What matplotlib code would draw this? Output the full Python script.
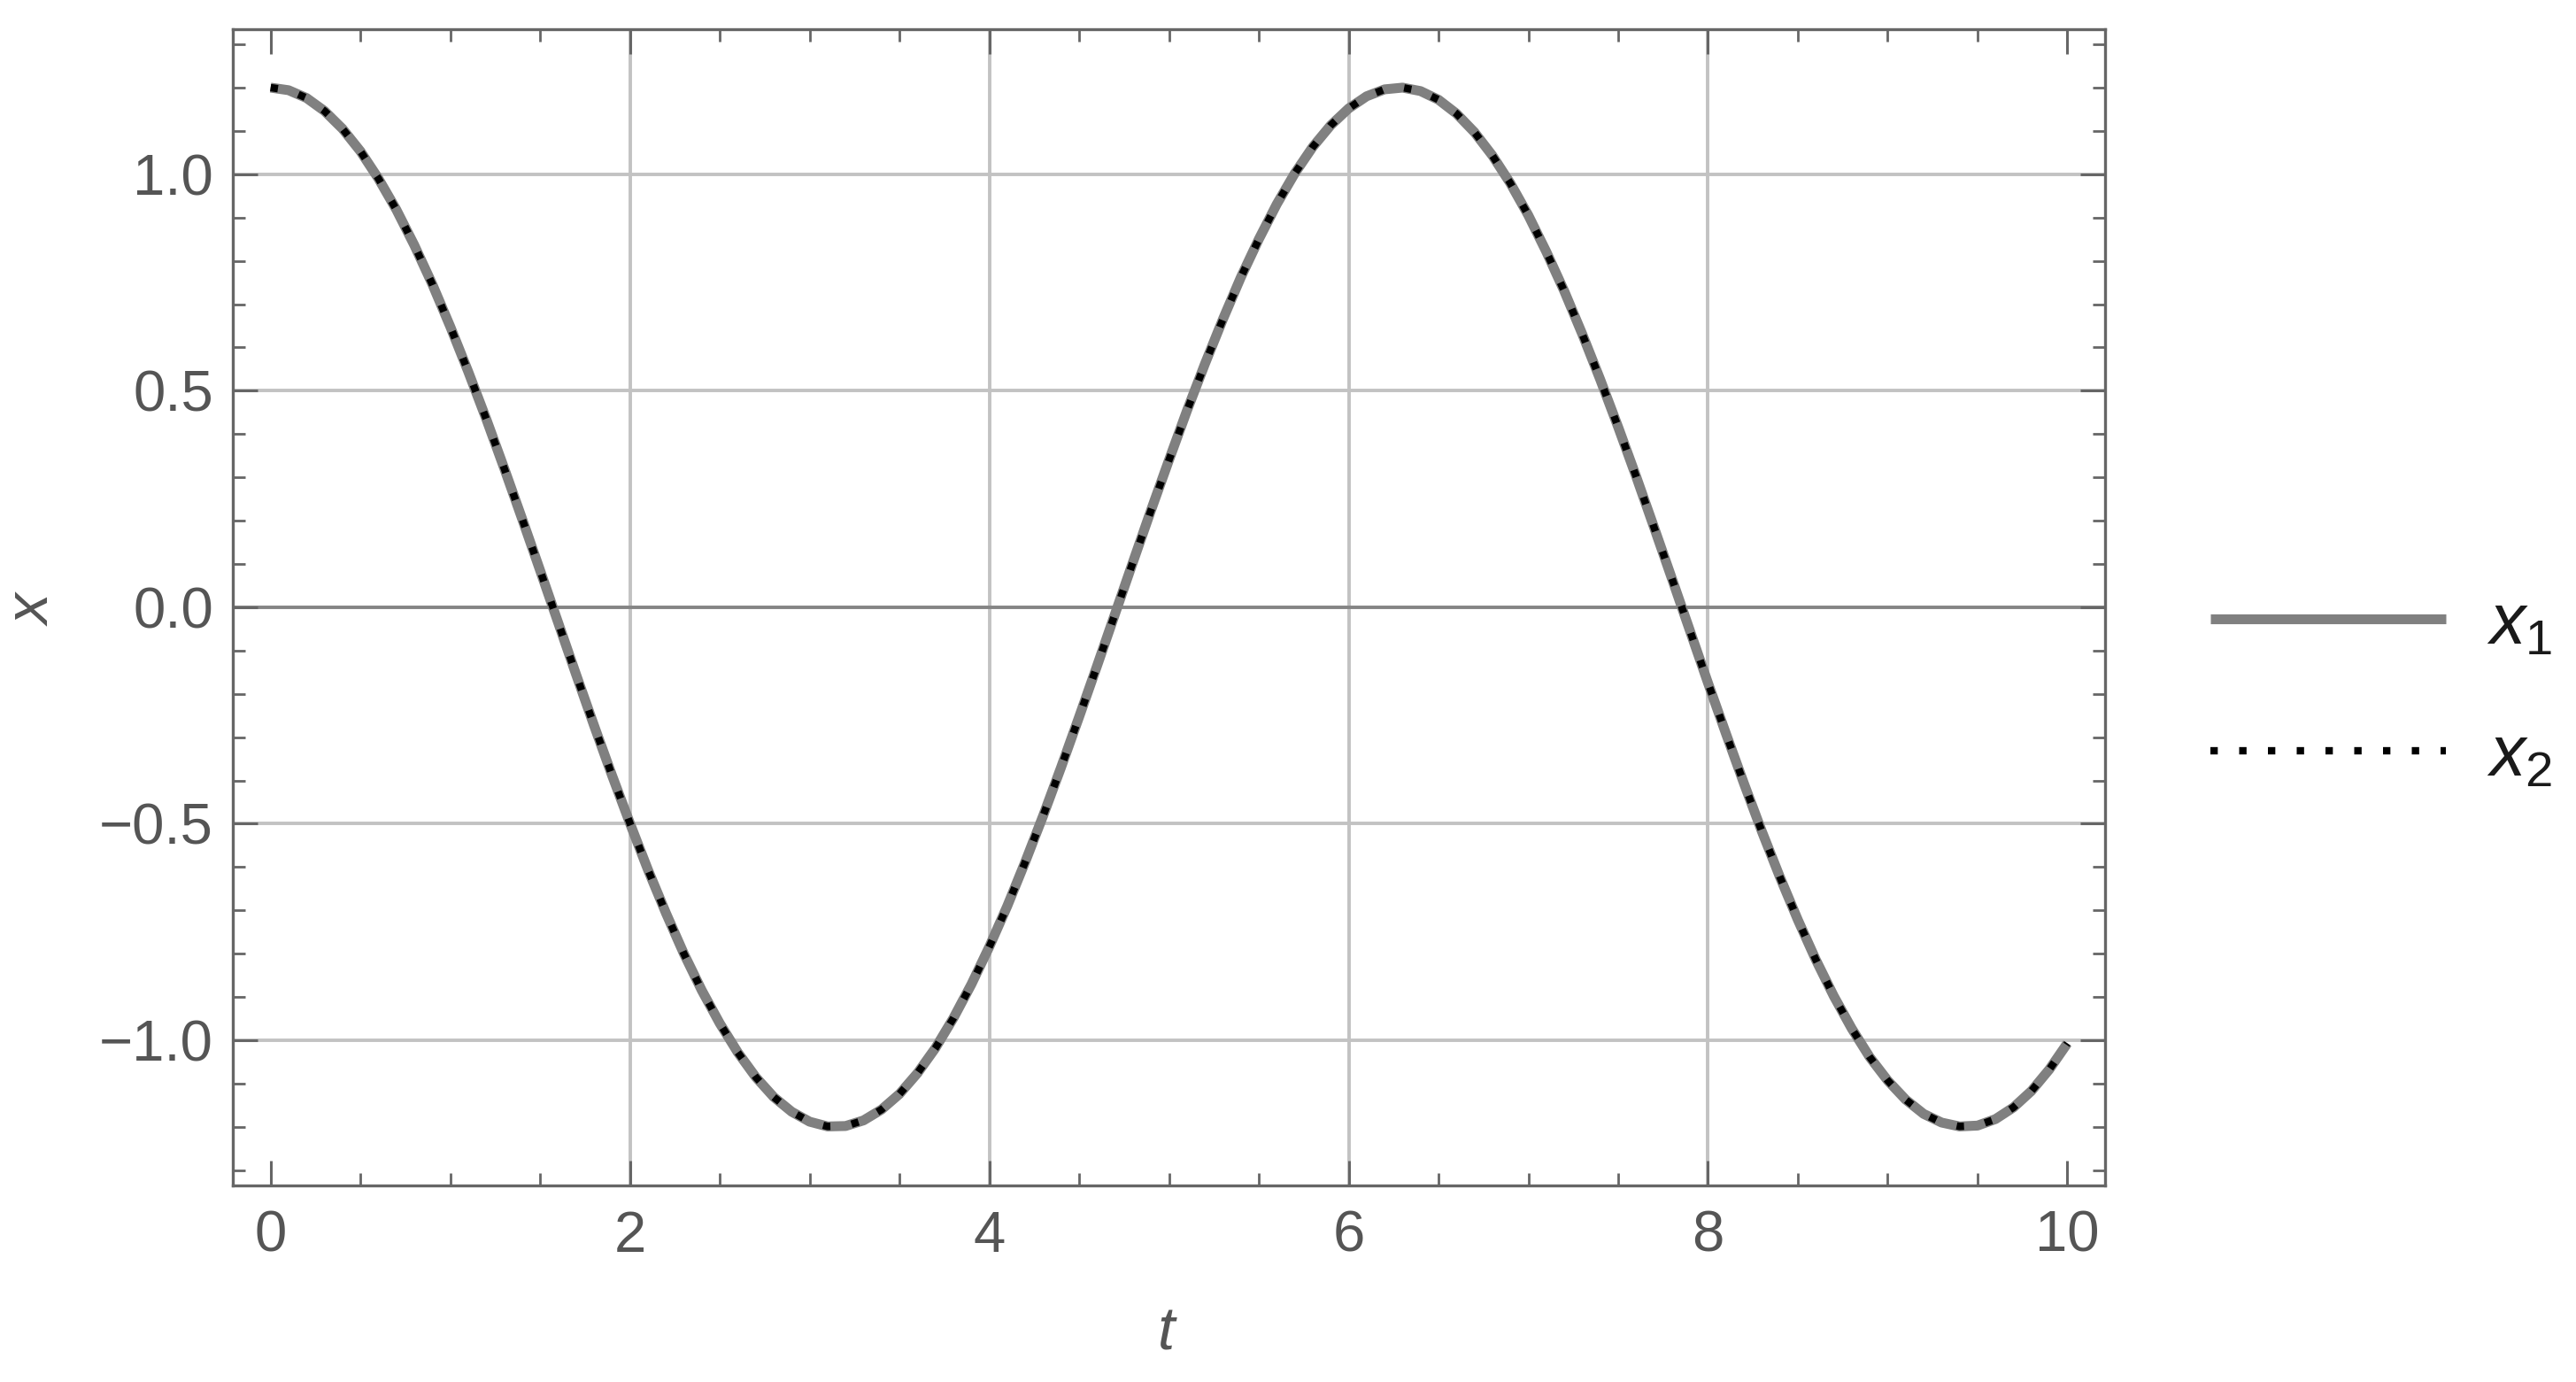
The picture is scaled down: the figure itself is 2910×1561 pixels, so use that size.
import numpy as np
import matplotlib
matplotlib.use('Agg')
import matplotlib.pyplot as plt
from matplotlib.ticker import MultipleLocator

plt.rcParams['font.family'] = ['Liberation Sans', 'DejaVu Sans']
plt.rcParams['mathtext.fontset'] = 'custom'
plt.rcParams['mathtext.it'] = 'Liberation Sans:italic'
plt.rcParams['mathtext.rm'] = 'Liberation Sans'

# sample grid of the curve (step 0.1)
t = np.round(np.arange(0, 10.05, 0.1), 1)

# x1
x1 = [1.200, 1.194, 1.176, 1.146, 1.105, 1.053, 0.990, 0.918, 0.836, 0.746,
      0.648, 0.544, 0.435, 0.321, 0.204, 0.085, -0.035, -0.155, -0.273, -0.388,
      -0.499, -0.606, -0.706, -0.800, -0.885, -0.961, -1.028, -1.085, -1.131, -1.165,
      -1.188, -1.199, -1.198, -1.185, -1.160, -1.124, -1.076, -1.018, -0.949, -0.871,
      -0.784, -0.690, -0.588, -0.481, -0.369, -0.253, -0.135, -0.015, 0.105, 0.224,
      0.340, 0.454, 0.562, 0.665, 0.762, 0.850, 0.931, 1.002, 1.063, 1.113,
      1.152, 1.180, 1.196, 1.200, 1.192, 1.172, 1.140, 1.097, 1.043, 0.979,
      0.905, 0.821, 0.730, 0.631, 0.526, 0.416, 0.302, 0.184, 0.065, -0.055,
      -0.175, -0.292, -0.407, -0.518, -0.623, -0.722, -0.814, -0.898, -0.973, -1.039,
      -1.093, -1.137, -1.170, -1.190, -1.199, -1.197, -1.182, -1.155, -1.117, -1.067,
      -1.007]
# x2 lies right on top of x1 in the picture
x2 = list(x1)

x_ticks = [0, 2, 4, 6, 8, 10]
y_ticks = [-1.0, -0.5, 0.0, 0.5, 1.0]
x_grid = [2, 4, 6, 8]
y_grid = [-1.0, -0.5, 0.5, 1.0]

frame_col = '#666666'
label_col = '#555555'

fig = plt.figure(figsize=(29.10, 15.61), dpi=100)
ax = fig.add_axes([0.0904, 0.1423, 0.8172 - 0.0904, 0.9789 - 0.1423])

# grid lines and zero axis
for g in x_grid:
    ax.axvline(g, color='#c2c2c2', lw=2.8, zorder=1)
for g in y_grid:
    ax.axhline(g, color='#c2c2c2', lw=2.8, zorder=1)
ax.axhline(0, color='#858585', lw=2.8, zorder=1)

ax.plot(t, x1, color='#808080', lw=8.0, solid_capstyle='butt', label='$x_1$', zorder=3)
ax.plot(t, x2, color='black', lw=6.0, dashes=(1.0, 2.9), dash_capstyle='butt',
        label='$x_2$', zorder=4)

ax.set_xlim(-0.21, 10.21)
ax.set_ylim(-1.335, 1.335)
ax.set_xticks(x_ticks)
ax.set_yticks(y_ticks)
ax.set_xticklabels([str(v) for v in x_ticks])
ax.set_yticklabels([f'{v:.1f}'.replace('-', '\u2212') for v in y_ticks])
ax.xaxis.set_minor_locator(MultipleLocator(0.5))
ax.yaxis.set_minor_locator(MultipleLocator(0.1))

ax.tick_params(which='both', direction='in', top=True, right=True,
               color=frame_col, labelcolor=label_col, labelsize=47)
ax.tick_params(which='major', length=20, width=2.2)
ax.tick_params(axis='x', which='major', pad=20)
ax.tick_params(axis='y', which='major', pad=16)
ax.tick_params(which='minor', length=10, width=2.0)
for s in ax.spines.values():
    s.set_color(frame_col)
    s.set_linewidth(2.4)

ax.set_xlabel('$t$', fontsize=50, color=label_col)
ax.set_ylabel('$x$', fontsize=50, color=label_col)
ax.xaxis.set_label_coords(0.499, -0.103)
ax.yaxis.set_label_coords(-0.092, 0.5)

fig.legend(loc='center left', bbox_to_anchor=(0.858, 0.500), frameon=False,
           fontsize=58, handlelength=3.3, handletextpad=0.58, labelspacing=0.9,
           borderpad=0, borderaxespad=0, labelcolor='#1a1a1a')

fig.savefig('out.png', dpi=100, facecolor='white')
